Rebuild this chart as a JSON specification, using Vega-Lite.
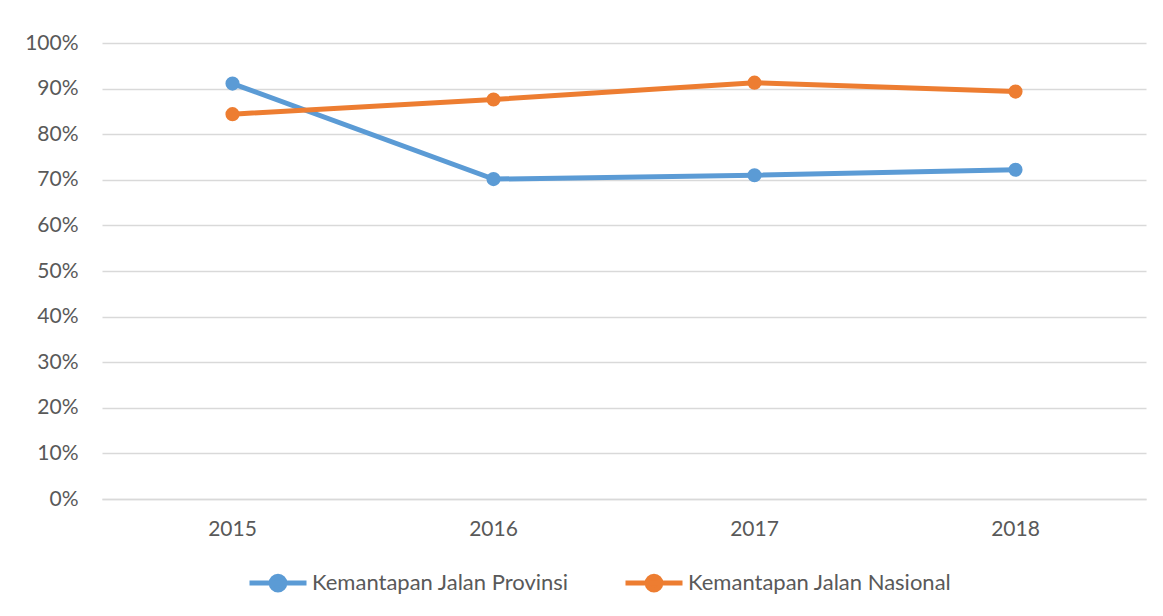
{
  "$schema": "https://vega.github.io/schema/vega-lite/v6.json",
  "width": 1044,
  "height": 456,
  "autosize": "none",
  "padding": {"left": 102, "top": 43, "right": 17, "bottom": 117},
  "background": "white",
  "config": {
    "font": "Lato",
    "view": {"stroke": null},
    "axis": {"labelFont": "Lato", "labelFontSize": 21, "labelColor": "#595959"}
  },
  "data": {
    "values": [
      {"year": "2015", "series": "Kemantapan Jalan Provinsi", "value": 0.911},
      {"year": "2016", "series": "Kemantapan Jalan Provinsi", "value": 0.7015},
      {"year": "2017", "series": "Kemantapan Jalan Provinsi", "value": 0.710},
      {"year": "2018", "series": "Kemantapan Jalan Provinsi", "value": 0.722},
      {"year": "2015", "series": "Kemantapan Jalan Nasional", "value": 0.844},
      {"year": "2016", "series": "Kemantapan Jalan Nasional", "value": 0.876},
      {"year": "2017", "series": "Kemantapan Jalan Nasional", "value": 0.913},
      {"year": "2018", "series": "Kemantapan Jalan Nasional", "value": 0.8935}
    ]
  },
  "mark": {"type": "line", "strokeWidth": 5, "point": {"filled": true, "size": 200, "opacity": 1}},
  "encoding": {
    "x": {
      "field": "year", "type": "ordinal",
      "scale": {"type": "band", "paddingInner": 0, "paddingOuter": 0},
      "axis": {"title": null, "labelAngle": 0, "ticks": false, "domainColor": "#D9D9D9", "domainWidth": 1.5, "labelPadding": 19, "grid": false}
    },
    "y": {
      "field": "value", "type": "quantitative",
      "scale": {"domain": [0, 1], "nice": false},
      "axis": {"title": null, "format": ".0%", "values": [0,0.1,0.2,0.3,0.4,0.5,0.6,0.7,0.8,0.9,1.0], "labelOverlap": false, "ticks": false, "domain": false, "gridColor": "#D9D9D9", "gridWidth": 1.5, "labelPadding": 24}
    },
    "color": {
      "field": "series", "type": "nominal",
      "scale": {"domain": ["Kemantapan Jalan Provinsi", "Kemantapan Jalan Nasional"], "range": ["#5B9BD5", "#ED7D31"]},
      "legend": {
        "title": null, "orient": "none", "direction": "horizontal",
        "legendX": 145, "legendY": 509,
        "symbolType": "M-1,0H1M-0.24,0A0.24,0.24,0,1,1,0.24,0A0.24,0.24,0,1,1,-0.24,0Z",
        "symbolSize": 3249, "symbolStrokeWidth": 5, "symbolOpacity": 1,
        "labelFont": "Lato", "labelFontSize": 22, "labelColor": "#595959", "labelOffset": 3, "labelLimit": 500,
        "columnPadding": 46
      }
    }
  }
}
